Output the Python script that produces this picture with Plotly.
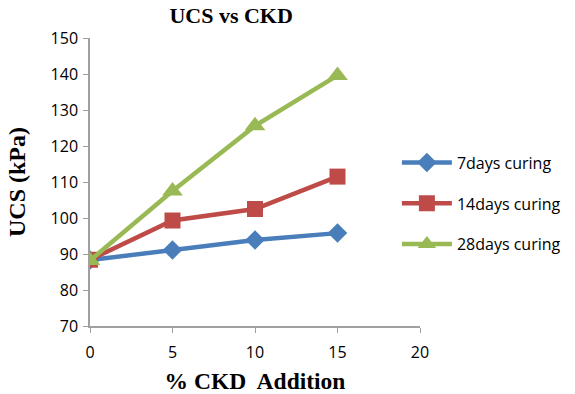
import plotly.graph_objects as go

ckd = [0, 5, 10, 15]
d7 = [88.3, 91.1, 93.9, 95.8]
d14 = [88.4, 99.3, 102.5, 111.5]
d28 = [88.2, 107.5, 125.6, 139.6]
names = ["7days curing", "14days curing", "28days curing"]
colors = ["#4a7ebb", "#be4b48", "#98b954"]
symbols = ["diamond", "square", "triangle-up"]
sizes = [15, 16, 18]

fig = go.Figure()
for ys, n, c, s, sz in zip([d7, d14, d28], names, colors, symbols, sizes):
    fig.add_trace(go.Scatter(x=ckd, y=ys, name=n, mode="lines+markers", legendgroup=n,
                             line=dict(color=c, width=4.5),
                             marker=dict(symbol=s, size=sz, color=c)))

fig.update_layout(
    width=575, height=394, margin=dict(l=90, r=155, t=38, b=68, autoexpand=False),
    paper_bgcolor="white", plot_bgcolor="white",
    title=dict(text="<b>UCS vs CKD</b>", x=0.402, xanchor="center", y=0.962, yanchor="middle",
               font=dict(family="Liberation Serif", size=22, color="black")),
    font=dict(family="Open Sans", size=16, color="black"),
    legend=dict(x=0.93, y=0.425, xanchor="left", yanchor="middle",
                font=dict(family="Open Sans", size=16, color="black"),
                traceorder="grouped", tracegroupgap=17, itemwidth=50),
    xaxis=dict(range=[0, 20], dtick=5, showgrid=False, zeroline=False,
               showline=True, linecolor="#a0a0a0", linewidth=1.5,
               ticks="outside", tickcolor="#a0a0a0", ticklen=5,
               tickfont=dict(size=16), ticklabelstandoff=6,
               title=dict(text="<b>% CKD  Addition</b>", standoff=12,
                          font=dict(family="Liberation Serif", size=23.5))),
    yaxis=dict(range=[70, 150], dtick=10, showgrid=False, zeroline=False,
               showline=True, linecolor="#a0a0a0", linewidth=1.5,
               ticks="outside", tickcolor="#a0a0a0", ticklen=5,
               tickfont=dict(size=16), ticklabelstandoff=2,
               title=dict(text="<b>UCS (kPa)</b>", standoff=18,
                          font=dict(family="Liberation Serif", size=24))),
)
fig.write_html("out.html")
